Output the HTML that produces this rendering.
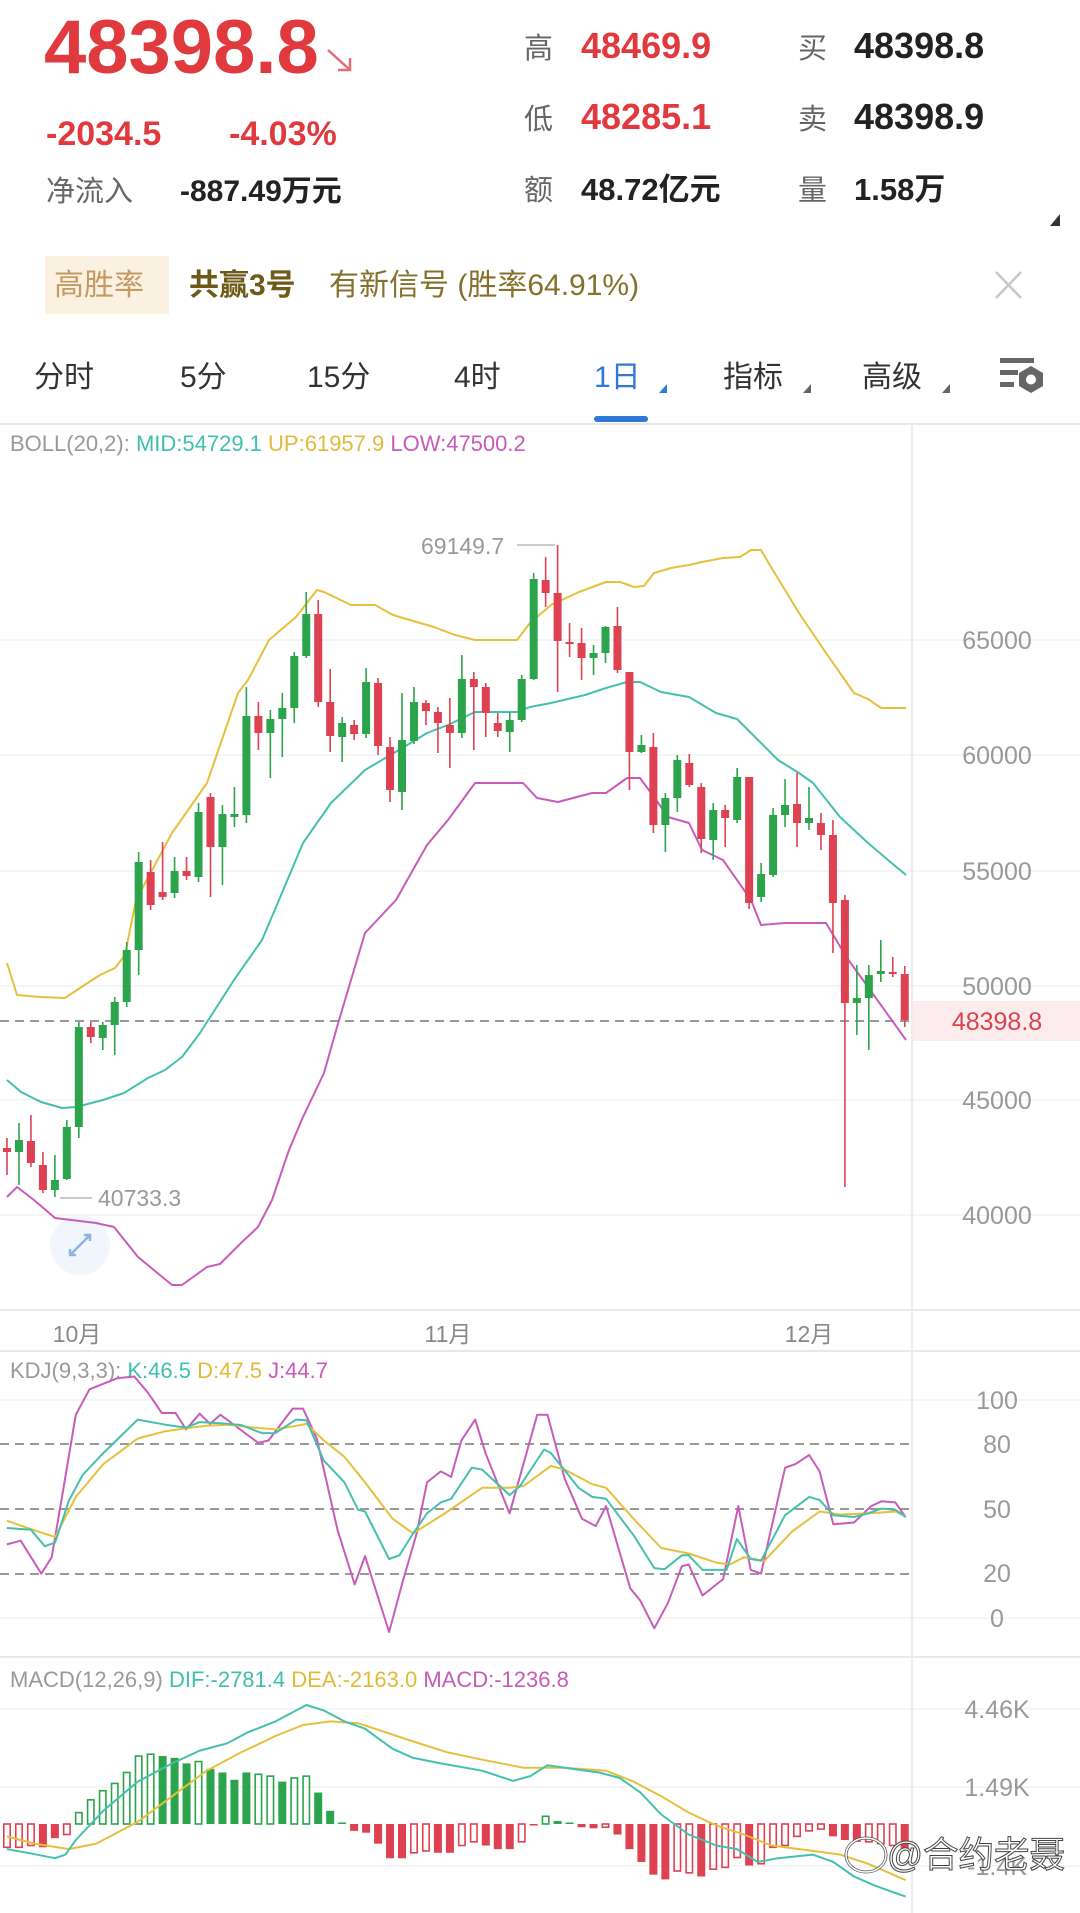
<!DOCTYPE html>
<html><head><meta charset="utf-8">
<style>
html,body{margin:0;padding:0;background:#fff;}
svg{display:block;}
text{font-family:"Liberation Sans","Noto Sans CJK SC",sans-serif;}
</style></head>
<body>
<svg id="s" width="1080" height="1913" viewBox="0 0 1080 1913" xmlns="http://www.w3.org/2000/svg">
<rect width="1080" height="1913" fill="#fff"/>
<!-- header -->
<text x="44" y="73" font-size="76" font-weight="bold" fill="#e0393e">48398.8</text>
<path d="M328 50 L350 70 M350 58 L350 70 L338 70" stroke="#e86a78" stroke-width="2.5" fill="none"/>
<text x="46" y="145" font-size="34" font-weight="bold" fill="#e0393e">-2034.5</text>
<text x="229" y="145" font-size="34" font-weight="bold" fill="#e0393e">-4.03%</text>
<text x="46" y="201" font-size="29" fill="#666">净流入</text>
<text x="180" y="201" font-size="30" font-weight="bold" fill="#222">-887.49万元</text>
<text x="524" y="58" font-size="29" fill="#666">高</text>
<text x="581" y="58" font-size="36" font-weight="bold" fill="#e0393e">48469.9</text>
<text x="798" y="58" font-size="29" fill="#666">买</text>
<text x="854" y="58" font-size="36" font-weight="bold" fill="#222">48398.8</text>
<text x="524" y="129" font-size="29" fill="#666">低</text>
<text x="581" y="129" font-size="36" font-weight="bold" fill="#e0393e">48285.1</text>
<text x="798" y="129" font-size="29" fill="#666">卖</text>
<text x="854" y="129" font-size="36" font-weight="bold" fill="#222">48398.9</text>
<text x="524" y="200" font-size="29" fill="#666">额</text>
<text x="581" y="200" font-size="31" font-weight="bold" fill="#222">48.72亿元</text>
<text x="798" y="200" font-size="29" fill="#666">量</text>
<text x="854" y="200" font-size="31" font-weight="bold" fill="#222">1.58万</text>
<path d="M1060 214 L1060 226 L1050 226 Z" fill="#333"/>
<!-- banner -->
<rect x="45" y="256" width="124" height="58" fill="#fbf1e1"/>
<text x="54" y="295" font-size="30" fill="#c49a63">高胜率</text>
<text x="189" y="295" font-size="30" font-weight="bold" fill="#6e5a18">共赢3号</text>
<text x="329" y="295" font-size="30" fill="#85712c">有新信号 (胜率64.91%)</text>
<path d="M996 272 L1021 298 M1021 272 L996 298" stroke="#c8c8c8" stroke-width="2.5"/>
<!-- tabs -->
<g font-size="30" fill="#333">
<text x="34" y="387">分时</text>
<text x="180" y="387">5分</text>
<text x="307" y="387">15分</text>
<text x="454" y="387">4时</text>
<text x="594" y="387" fill="#2f78d6">1日</text>
<text x="723" y="387">指标</text>
<text x="862" y="387">高级</text>
</g>
<path d="M667 384 L667 393 L659 393 Z" fill="#2f78d6"/>
<path d="M811 384 L811 393 L803 393 Z" fill="#666"/>
<path d="M950 384 L950 393 L942 393 Z" fill="#666"/>
<rect x="594" y="416" width="54" height="6" rx="3" fill="#2f78d6"/>
<rect x="1000" y="358" width="34" height="5" fill="#666"/>
<rect x="1000" y="370" width="18" height="5" fill="#666"/>
<rect x="1000" y="382" width="14" height="5" fill="#666"/>
<polygon points="1031,366 1043,373 1043,386 1031,393 1019,386 1019,373" fill="#666"/>
<circle cx="1031" cy="379.5" r="5" fill="#fff"/>
<line x1="0" y1="424" x2="1080" y2="424" stroke="#e8e8e8" stroke-width="2"/>
<!-- BOLL label -->
<text x="10" y="451" font-size="22" fill="#999">BOLL(20,2): <tspan fill="#3fbfae">MID:54729.1</tspan> <tspan fill="#e2b93a">UP:61957.9</tspan> <tspan fill="#c75bb8">LOW:47500.2</tspan></text>
<!-- grid -->
<g stroke="#f2f2f2" stroke-width="1.5">
<line x1="0" y1="640" x2="1080" y2="640"/><line x1="0" y1="755" x2="1080" y2="755"/>
<line x1="0" y1="871" x2="1080" y2="871"/><line x1="0" y1="986" x2="1080" y2="986"/>
<line x1="0" y1="1100" x2="1080" y2="1100"/><line x1="0" y1="1215" x2="1080" y2="1215"/>
<line x1="0" y1="1400" x2="1080" y2="1400"/><line x1="0" y1="1618" x2="1080" y2="1618"/>
<line x1="0" y1="1709" x2="1080" y2="1709"/><line x1="0" y1="1787" x2="1080" y2="1787"/><line x1="0" y1="1866" x2="1080" y2="1866"/>
</g>
<line x1="912" y1="424" x2="912" y2="1913" stroke="#ececec" stroke-width="2"/>
<line x1="0" y1="1310" x2="1080" y2="1310" stroke="#e8e8e8" stroke-width="2"/>
<line x1="0" y1="1351" x2="1080" y2="1351" stroke="#e8e8e8" stroke-width="2"/>
<line x1="0" y1="1657" x2="1080" y2="1657" stroke="#e8e8e8" stroke-width="2"/>
<!-- axis labels main -->
<g font-size="25" fill="#999" text-anchor="middle">
<text x="997" y="649">65000</text><text x="997" y="764">60000</text>
<text x="997" y="880">55000</text><text x="997" y="995">50000</text>
<text x="997" y="1109">45000</text><text x="997" y="1224">40000</text>
</g>
<rect x="913" y="1001" width="167" height="40" fill="#fdeced"/>
<text x="997" y="1030" font-size="25" fill="#d9434f" text-anchor="middle">48398.8</text>
<line x1="0" y1="1021" x2="912" y2="1021" stroke="#999" stroke-width="2" stroke-dasharray="9 6"/>
<g font-size="23" fill="#888" text-anchor="middle">
<text x="77" y="1342">10月</text><text x="448" y="1342">11月</text><text x="809" y="1342">12月</text>
</g>
<text x="421" y="554" font-size="23" fill="#999">69149.7</text>
<line x1="517" y1="545" x2="555" y2="545" stroke="#bbb" stroke-width="1.5"/>
<text x="98" y="1206" font-size="23" fill="#999">40733.3</text>
<line x1="60" y1="1198" x2="92" y2="1198" stroke="#bbb" stroke-width="1.5"/>
<circle cx="80" cy="1245" r="30" fill="#f1f6fd"/>
<path d="M70 1255 L90 1235 M84 1235 L90 1235 L90 1241 M70 1249 L70 1255 L76 1255" stroke="#8fb3e0" stroke-width="2.5" fill="none"/>
<!-- KDJ -->
<text x="10" y="1378" font-size="22" fill="#999">KDJ(9,3,3): <tspan fill="#3fbfae">K:46.5</tspan> <tspan fill="#e2b93a">D:47.5</tspan> <tspan fill="#c75bb8">J:44.7</tspan></text>
<g stroke="#999" stroke-width="2" stroke-dasharray="9 6">
<line x1="0" y1="1444" x2="912" y2="1444"/><line x1="0" y1="1509" x2="912" y2="1509"/><line x1="0" y1="1574" x2="912" y2="1574"/>
</g>
<g font-size="25" fill="#999" text-anchor="middle">
<text x="997" y="1409">100</text><text x="997" y="1453">80</text><text x="997" y="1518">50</text>
<text x="997" y="1582">20</text><text x="997" y="1627">0</text>
</g>
<!-- MACD -->
<text x="10" y="1687" font-size="22" fill="#999">MACD(12,26,9) <tspan fill="#3fbfae">DIF:-2781.4</tspan> <tspan fill="#e2b93a">DEA:-2163.0</tspan> <tspan fill="#c75bb8">MACD:-1236.8</tspan></text>
<g font-size="25" fill="#999" text-anchor="middle">
<text x="997" y="1718">4.46K</text><text x="997" y="1796">1.49K</text><text x="997" y="1875">-1.4K</text>
</g>
<g id="dyn"></g>
<!-- watermark -->
<g>
<ellipse cx="866" cy="1855" rx="20" ry="17" fill="none" stroke="#555" stroke-width="3"/>
<ellipse cx="866" cy="1855" rx="20" ry="17" fill="none" stroke="#fff" stroke-width="1.5"/>
<text x="887" y="1867" font-size="36" fill="#fff" stroke="#444" stroke-width="1" textLength="178" lengthAdjust="spacingAndGlyphs">@合约老聂</text>
</g>
</svg>
<script>
(function(){
var NS="http://www.w3.org/2000/svg",g=document.getElementById("dyn");
function el(n,a){var e=document.createElementNS(NS,n);for(var k in a)e.setAttribute(k,a[k]);g.appendChild(e);return e;}
function line(pts,c,w){el("polyline",{points:pts.map(function(p){return p[0].toFixed(1)+","+p[1].toFixed(1)}).join(" "),fill:"none",stroke:c,"stroke-width":w||2.2,"stroke-linejoin":"round"});}
var R="#de4151",G="#2ca44c";
function X(i){return 7+11.97*i;}
var C=[["r",1148,1152,1138,1175],["g",1140,1152,1123,1185],["r",1141,1163,1115,1167],["r",1165,1190,1152,1193],["g",1180,1190,1155,1197],["g",1127,1179,1120,1180],["g",1027,1127,1022,1138],["r",1027,1037,1022,1043],["g",1025,1038,1022,1050],["g",1002,1025,997,1055],["g",950,1002,942,1007],["g",862,950,852,975],["r",872,905,860,910],["r",892,897,842,900],["g",871,893,857,898],["r",871,876,857,880],["g",812,877,803,882],["r",797,847,793,897],["g",814,847,805,885],["g",814,817,787,827],["g",716,815,687,823],["r",716,733,702,750],["g",719,733,710,778],["g",708,719,693,757],["g",656,708,652,723],["g",614,656,592,658],["r",614,702,600,707],["r",702,736,669,752],["g",723,737,717,762],["r",725,734,720,740],["g",682,734,668,738],["r",683,746,678,755],["r",747,790,737,802],["g",740,792,693,810],["g",702,741,687,744],["r",703,711,700,725],["r",712,723,707,753],["r",725,733,698,768],["g",679,733,655,738],["r",679,687,672,750],["r",687,713,683,737],["r",723,731,713,737],["g",720,732,712,752],["g",679,720,675,722],["g",579,679,573,680],["r",580,593,557,607],["r",593,641,545,692],["r",642,644,623,657],["r",643,658,628,680],["g",653,658,645,675],["g",627,653,626,663],["r",626,670,607,673],["r",672,752,672,790],["g",745,752,735,753],["r",747,825,733,833],["g",798,825,793,852],["g",760,798,755,812],["r",763,785,754,787],["r",787,839,783,853],["g",810,840,803,860],["r",810,818,805,847],["g",777,820,768,823],["r",777,903,777,909],["g",874,897,863,902],["g",815,875,808,877],["g",805,815,779,827],["r",804,823,773,847],["g",818,823,787,830],["r",823,835,813,850],["r",835,903,820,953],["r",900,1003,895,1187],["g",998,1003,965,1035],["g",975,998,965,1050],["g",971,974,940,982],["r",972,974,957,977],["r",974,1020,966,1027]];
var UP=[[7,963],[17,995],[40,997],[65,998],[80,988],[100,975],[115,968],[125,955],[136,900],[172,833],[207,783],[238,693],[248,680],[269,640],[296,617],[317,590],[324,592],[351,605],[375,605],[393,615],[420,623],[434,627],[455,635],[475,640],[517,640],[530,623],[551,605],[579,592],[606,582],[620,582],[634,587],[644,586],[654,573],[671,568],[689,565],[702,562],[723,558],[740,557],[751,550],[761,550],[771,567],[785,590],[799,613],[826,653],[854,693],[868,699],[881,708],[906,708]];
var MID=[[7,1080],[21,1092],[41,1102],[62,1108],[76,1107],[103,1100],[124,1093],[148,1078],[165,1070],[182,1057],[200,1033],[234,980],[262,940],[279,900],[303,843],[331,803],[365,770],[399,750],[427,733],[448,725],[475,712],[517,712],[530,707],[551,703],[585,695],[606,688],[627,682],[640,682],[661,692],[689,697],[716,713],[737,719],[758,740],[778,760],[799,773],[813,783],[840,817],[868,843],[888,860],[906,875]];
var LOW=[[7,1197],[17,1187],[34,1200],[55,1218],[96,1223],[114,1227],[138,1257],[172,1285],[182,1285],[207,1267],[220,1264],[241,1243],[258,1227],[272,1200],[289,1150],[303,1117],[324,1073],[337,1027],[365,933],[396,900],[427,845],[448,820],[475,783],[523,783],[537,798],[558,802],[592,793],[606,793],[627,778],[640,778],[654,797],[668,817],[689,823],[702,850],[723,860],[744,890],[751,900],[761,925],[785,923],[799,923],[826,923],[847,958],[868,987],[906,1040]];
line(UP,"#e6c03c",2);line(MID,"#45c0ae",2);line(LOW,"#c85cba",2);
C.forEach(function(c,i){var x=X(i),col=c[0]=="r"?R:G;
 el("line",{x1:x,y1:c[3],x2:x,y2:c[4],stroke:col,"stroke-width":1.6});
 el("rect",{x:x-4,y:c[1],width:8,height:Math.max(2,c[2]-c[1]),fill:col});});
function Z(a){return a.map(function(p){return [p[0]/1.452,1340+p[1]/2.74];});}
var K=[[10,515],[45,520],[65,565],[80,555],[100,440],[120,370],[150,310],[200,218],[240,232],[270,240],[290,225],[320,228],[350,233],[380,255],[400,255],[430,218],[445,220],[470,330],[500,390],[520,465],[530,470],[565,600],[580,590],[600,530],[620,475],[640,445],[655,435],[685,350],[700,355],[740,425],[755,400],[790,300],[800,310],[840,405],[860,430],[880,435],[920,535],[950,625],[965,628],[990,590],[1000,590],[1020,630],[1055,630],[1070,545],[1090,600],[1105,605],[1140,480],[1175,430],[1190,438],[1210,480],[1240,485],[1260,475],[1280,462],[1300,465],[1315,485]];
var D=[[10,495],[40,515],[80,540],[110,430],[150,340],[200,270],[240,250],[270,242],[300,235],[330,232],[370,240],[400,245],[430,235],[445,230],[470,275],[500,320],[530,390],[570,490],[600,530],[650,470],[700,405],[740,405],[760,400],[800,345],[820,355],[860,395],[880,405],[920,490],[960,570],[1000,585],[1040,610],[1060,615],[1080,595],[1110,605],[1150,525],[1190,470],[1220,478],[1260,475],[1300,470],[1315,482]];
var J=[[10,560],[30,550],[60,640],[75,595],[90,430],[110,205],[130,135],[150,120],[170,105],[195,100],[215,145],[235,200],[255,200],[270,245],[290,202],[305,230],[320,205],[340,233],[375,282],[390,275],[425,188],[440,188],[460,270],[490,520],[515,670],[530,592],[565,800],[585,660],[605,530],[620,390],[640,360],[655,375],[670,275],[690,218],[705,310],[740,475],[780,205],[795,205],[820,380],[845,490],[865,510],[880,455],[915,680],[930,715],[950,790],[970,720],[990,620],[1000,615],[1020,700],[1050,655],[1072,455],[1090,630],[1105,640],[1140,350],[1155,340],[1175,315],[1190,360],[1210,505],[1240,500],[1265,455],[1280,442],[1300,445],[1315,485]];
line(Z(J),"#c85cba",2);line(Z(D),"#e6c03c",2);line(Z(K),"#45c0ae",2);
var B=[[10,1390,0],[25,1390,0],[43,1385,0],[61,1390,1],[78,1365,1],[95,1355,0],[112,1295,0],[130,1260,0],[147,1235,0],[165,1215,0],[182,1185,0],[200,1140,0],[216,1135,0],[234,1140,1],[250,1145,1],[268,1160,1],[286,1155,0],[303,1175,1],[321,1185,1],[339,1205,1],[356,1185,1],[373,1190,0],[390,1195,0],[408,1210,1],[426,1200,0],[443,1195,0],[461,1240,1],[478,1290,1],[496,1322,1],[513,1345,1],[530,1350,1],[548,1380,1],[566,1420,1],[582,1420,1],[600,1405,0],[617,1400,0],[635,1405,1],[652,1405,1],[670,1385,0],[688,1375,0],[705,1385,1],[722,1395,1],[739,1395,1],[756,1375,0],[773,1328,1],[791,1305,0],[808,1318,1],[826,1322,1],[843,1335,1],[860,1338,1],[878,1335,0],[896,1355,1],[913,1395,1],[930,1430,1],[948,1465,1],[966,1478,1],[983,1455,0],[1000,1460,0],[1018,1470,1],[1036,1450,0],[1053,1445,0],[1070,1418,0],[1088,1440,1],[1105,1435,0],[1122,1390,0],[1140,1385,0],[1158,1360,0],[1175,1345,0],[1193,1340,0],[1210,1360,1],[1228,1370,1],[1245,1375,1],[1262,1375,0],[1280,1380,0],[1297,1385,0],[1315,1395,1]];
var z0=1824;
B.forEach(function(b,i){var x=X(i),y=1340+b[1]/2.74,col=y<z0?G:R,t=Math.min(y,z0),h=Math.max(1.5,Math.abs(y-z0));
 if(b[2])el("rect",{x:x-4,y:t,width:8,height:h,fill:col});
 else el("rect",{x:x-3.2,y:t,width:6.4,height:h,fill:"none",stroke:col,"stroke-width":1.6});});
var DIF=[[10,1395],[40,1405],[80,1420],[95,1410],[110,1370],[150,1290],[200,1210],[250,1160],[290,1125],[330,1105],[360,1075],[400,1045],[445,1000],[470,1015],[500,1045],[530,1065],[570,1120],[600,1145],[640,1160],[700,1180],[745,1208],[770,1195],[795,1165],[830,1175],[870,1185],[900,1200],[930,1240],[960,1300],[1000,1355],[1040,1385],[1070,1395],[1100,1430],[1130,1420],[1180,1410],[1210,1430],[1240,1470],[1270,1495],[1315,1525]];
var DEA=[[10,1360],[50,1380],[100,1395],[140,1380],[200,1320],[250,1250],[300,1180],[350,1130],[400,1085],[440,1055],[480,1045],[520,1050],[560,1075],[600,1100],[650,1130],[700,1150],[760,1172],[820,1172],[880,1180],[920,1210],[960,1250],[1000,1295],[1040,1330],[1080,1355],[1120,1385],[1180,1400],[1220,1410],[1260,1435],[1315,1480]];
line(Z(DEA),"#e6c03c",2);line(Z(DIF),"#45c0ae",2);
})();
</script>
</body></html>
